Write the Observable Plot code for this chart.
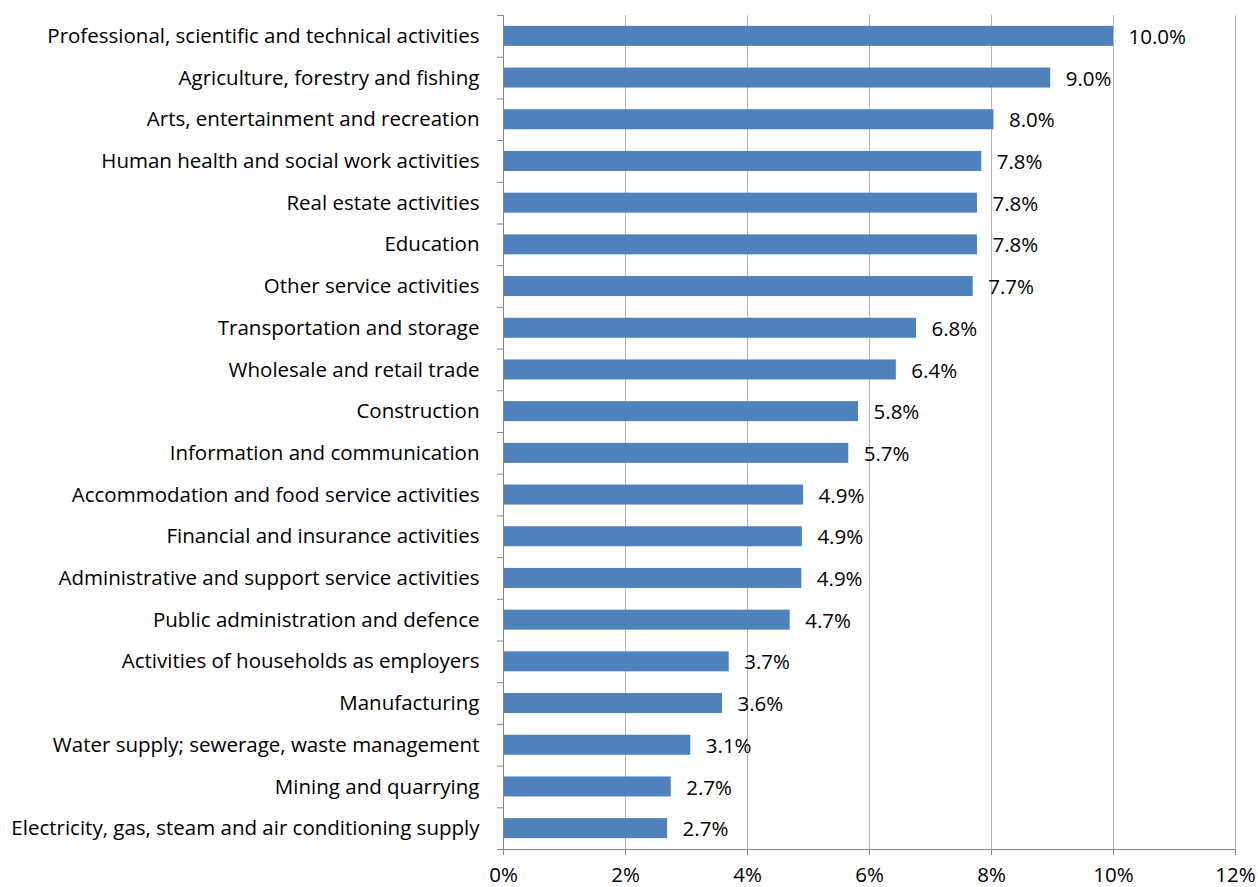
<!DOCTYPE html>
<html>
<head>
<meta charset="utf-8">
<script src="https://cdn.jsdelivr.net/npm/d3@7"></script>
<script src="https://cdn.jsdelivr.net/npm/@observablehq/plot@0.6"></script>
<style>
  html, body { margin: 0; padding: 0; background: #fff; }
  #chart svg { display: block; }
</style>
</head>
<body>
<div id="chart"></div>
<script>
const categories = [
  "Professional, scientific and technical activities",
  "Agriculture, forestry and fishing",
  "Arts, entertainment and recreation",
  "Human health and social work activities",
  "Real estate activities",
  "Education",
  "Other service activities",
  "Transportation and storage",
  "Wholesale and retail trade",
  "Construction",
  "Information and communication",
  "Accommodation and food service activities",
  "Financial and insurance activities",
  "Administrative and support service activities",
  "Public administration and defence",
  "Activities of households as employers",
  "Manufacturing",
  "Water supply; sewerage, waste management",
  "Mining and quarrying",
  "Electricity, gas, steam and air conditioning supply"
];
const values = [10.0, 8.97, 8.04, 7.84, 7.77, 7.77, 7.70, 6.77, 6.44, 5.82, 5.66, 4.92, 4.90, 4.89, 4.70, 3.70, 3.59, 3.07, 2.75, 2.69];
const valueLabels = ["10.0%", "9.0%", "8.0%", "7.8%", "7.8%", "7.8%", "7.7%", "6.8%", "6.4%", "5.8%", "5.7%", "4.9%", "4.9%", "4.9%", "4.7%", "3.7%", "3.6%", "3.1%", "2.7%", "2.7%"];
const xTicks = [0, 2, 4, 6, 8, 10, 12];

const data = categories.map((c, i) => ({category: c, value: values[i], label: valueLabels[i]}));

const W = 1258, H = 887;
const mL = 503, mR = 23, mT = 15, mB = 38;
const step = (H - mT - mB) / categories.length;
const FONT = "'Open Sans', sans-serif";
const FS = 20.5;

const axisLines = (index, scales, values, dims) => {
  const g = d3.create("svg:g").attr("stroke", "#868686").attr("stroke-width", 1).attr("fill", "none");
  const yb = dims.height - dims.marginBottom;
  const x0 = scales.x(0), x1 = scales.x(12);
  g.append("line").attr("x1", x0).attr("x2", x1).attr("y1", yb + 0.5).attr("y2", yb + 0.5);
  g.append("line").attr("x1", x0 + 0.5).attr("x2", x0 + 0.5).attr("y1", dims.marginTop).attr("y2", yb);
  return g.node();
};

const chart = Plot.plot({
  width: W,
  height: H,
  marginLeft: mL,
  marginRight: mR,
  marginTop: mT,
  marginBottom: mB,
  style: {fontFamily: FONT, fontSize: FS + "px", color: "#000", background: "#fff"},
  x: {domain: [0, 12], label: null},
  y: {domain: categories, paddingInner: 0.52, paddingOuter: 0.26, round: false, label: null},
  marks: [
    Plot.gridX(xTicks, {stroke: "#b5b5b5", strokeOpacity: 1}),
    Plot.barX(data, {x: "value", y: "category", fill: "#4F81BD"}),
    Plot.text(data, {x: "value", y: "category", text: "label", textAnchor: "start", dx: 15, dy: 1, fontSize: FS, fill: "#000"}),
    Plot.axisX(xTicks, {tickFormat: d => d + "%", tickSize: 6, tickPadding: 12, fontSize: FS, stroke: "#868686", fill: "#000", label: null}),
    Plot.axisY({tickSize: 0, tickPadding: 24, fontSize: FS, fill: "#000", label: null}),
    Plot.axisY({tickSize: 6, text: null, dy: step / 2, stroke: "#868686", label: null}),
    Plot.axisY([categories[0]], {tickSize: 6, text: null, dy: -step / 2, stroke: "#868686", label: null}),
    axisLines
  ]
});
document.getElementById("chart").appendChild(chart);
</script>
</body>
</html>
